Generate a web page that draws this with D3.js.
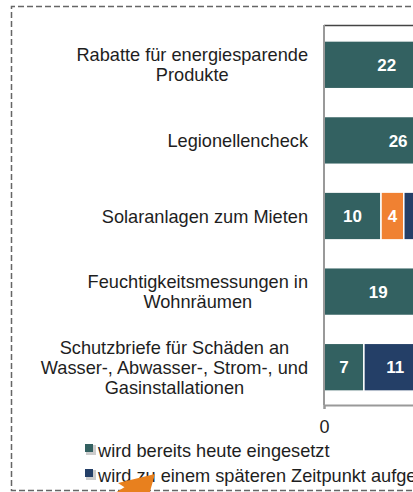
<!DOCTYPE html>
<html>
<head>
<meta charset="utf-8">
<script src="https://cdn.jsdelivr.net/npm/d3@7"></script>
<style>
  body { margin: 0; background: #fff; }
  svg { display: block; overflow: hidden; }
  text { font-family: "Liberation Sans", Arial, sans-serif; }
</style>
</head>
<body>
<svg id="chart" width="413" height="492"></svg>
<script>
// categories, top to bottom (each label already split into its lines)
var categories = [
    ["Rabatte für energiesparende", "Produkte"],
    ["Legionellencheck"],
    ["Solaranlagen zum Mieten"],
    ["Feuchtigkeitsmessungen in", "Wohnräumen"],
    ["Schutzbriefe für Schäden an", "Wasser-, Abwasser-, Strom-, und", "Gasinstallationen"]
];

// stacked series, in stack order
var seriesToday  = [22, 26, 10, 19, 7];
var seriesOrange = [0, 0, 4, 0, 0];
var seriesLater  = [0, 0, 9, 0, 11];

var legendNames = ["wird bereits heute eingesetzt", "wird zu einem späteren Zeitpunkt aufgenommen"];
var xTicks = [0, 20, 40, 60, 80, 100];

var colors = ["#336161", "#f08132", "#243f67"];

var W = 413;
var svg = d3.select("#chart");

// dashed frame around the chart (runs past the right edge)
svg.append("path")
    .attr("d", "M600,6.5 H11.5 V490.5 H600")
    .attr("fill", "none")
    .attr("stroke", "#666")
    .attr("stroke-width", 1.5)
    .attr("stroke-dasharray", "6,3");

var x = d3.scaleLinear()
    .domain([0, 100])
    .range([324, 324 + 570]);

var y = d3.scaleBand()
    .domain(d3.range(categories.length))
    .range([27, 405])
    .paddingInner(0.368)
    .paddingOuter(0.184);

// build stack rows
var rows = categories.map(function (c, i) {
    return { i: i, s0: seriesToday[i], s1: seriesOrange[i], s2: seriesLater[i] };
});
var stack = d3.stack().keys(["s0", "s1", "s2"]);
var layers = stack(rows);

var bars = svg.append("g");
layers.forEach(function (layer, k) {
    var g = bars.append("g");
    var segs = layer.filter(function (d) { return d[1] > d[0]; });
    g.selectAll("rect")
        .data(segs)
        .enter().append("rect")
        .attr("x", function (d) { return x(d[0]); })
        .attr("y", function (d) { return y(d.data.i); })
        .attr("width", function (d) { return x(d[1]) - x(d[0]); })
        .attr("height", y.bandwidth())
        .attr("fill", colors[k])
        .attr("stroke", "#fff")
        .attr("stroke-width", 1.5);

    // value labels (only those whose centre lies inside the visible crop)
    g.selectAll("text")
        .data(segs.filter(function (d) { return (x(d[0]) + x(d[1])) / 2 < W - 10; }))
        .enter().append("text")
        .attr("x", function (d) { return (x(d[0]) + x(d[1])) / 2; })
        .attr("y", function (d) { return y(d.data.i) + y.bandwidth() / 2; })
        .attr("dy", "0.36em")
        .attr("text-anchor", "middle")
        .attr("fill", "#fff")
        .attr("font-size", "17px")
        .attr("font-weight", "bold")
        .text(function (d) { return d[1] - d[0]; });
});

// plot area top border
svg.append("line")
    .attr("x1", x(0)).attr("x2", W)
    .attr("y1", 25.5).attr("y2", 25.5)
    .attr("stroke", "#444").attr("stroke-width", 1.5);

// vertical axis line
svg.append("line")
    .attr("x1", x(0)).attr("x2", x(0))
    .attr("y1", 25).attr("y2", 405)
    .attr("stroke", "#999").attr("stroke-width", 2);

// bottom axis (ticks inside the visible crop)
var gX = svg.append("g")
    .attr("transform", "translate(0,405)")
    .call(d3.axisBottom(x)
        .tickValues(xTicks.filter(function (v) { return x(v) < W; }))
        .tickSize(4).tickPadding(11));
gX.select(".domain").attr("stroke", "#999").attr("stroke-width", 2);
gX.selectAll(".tick line").attr("stroke", "#999").attr("stroke-width", 2);
gX.selectAll(".tick text")
    .attr("fill", "#222")
    .attr("font-size", "18px")
    .attr("font-family", "Liberation Sans, Arial, sans-serif");

// category labels: lines centred on each other, widest line ends at 308
var labels = svg.append("g");
categories.forEach(function (lines, i) {
    var lh = 20;
    var cy = y(i) + y.bandwidth() / 2;
    var t = labels.append("text")
        .attr("font-size", "18.2px")
        .attr("fill", "#1e1e1e")
        .attr("text-anchor", "middle");
    var spans = lines.map(function (line, j) {
        return t.append("tspan")
            .attr("y", cy + (j - (lines.length - 1) / 2) * lh)
            .attr("dy", "0.36em")
            .text(line);
    });
    var maxW = d3.max(spans, function (s) { return s.node().getComputedTextLength(); });
    spans.forEach(function (s) { s.attr("x", 308 - maxW / 2); });
});

// legend
var legend = svg.append("g");
legendNames.forEach(function (name, i) {
    var ly = 450 + i * 25;
    var col = i === 0 ? colors[0] : colors[2];
    legend.append("rect")
        .attr("x", 86).attr("y", ly - 5)
        .attr("width", 10).attr("height", 10)
        .attr("fill", "#ccc");
    legend.append("rect")
        .attr("x", 85).attr("y", ly - 6)
        .attr("width", 8).attr("height", 8)
        .attr("fill", col);
    legend.append("text")
        .attr("x", 98).attr("y", ly)
        .attr("dy", "0.36em")
        .attr("font-size", "18.2px")
        .attr("fill", "#1e1e1e")
        .text(name);
});

// orange annotation arrow pointing at the legend
svg.append("path")
    .attr("d", "M100,508 L136,486")
    .attr("stroke", "#e8801e")
    .attr("stroke-width", 10)
    .attr("fill", "none");
svg.append("path")
    .attr("d", "M118,483 L155,474 L147,502 Z")
    .attr("fill", "#e8801e");
</script>
</body>
</html>
